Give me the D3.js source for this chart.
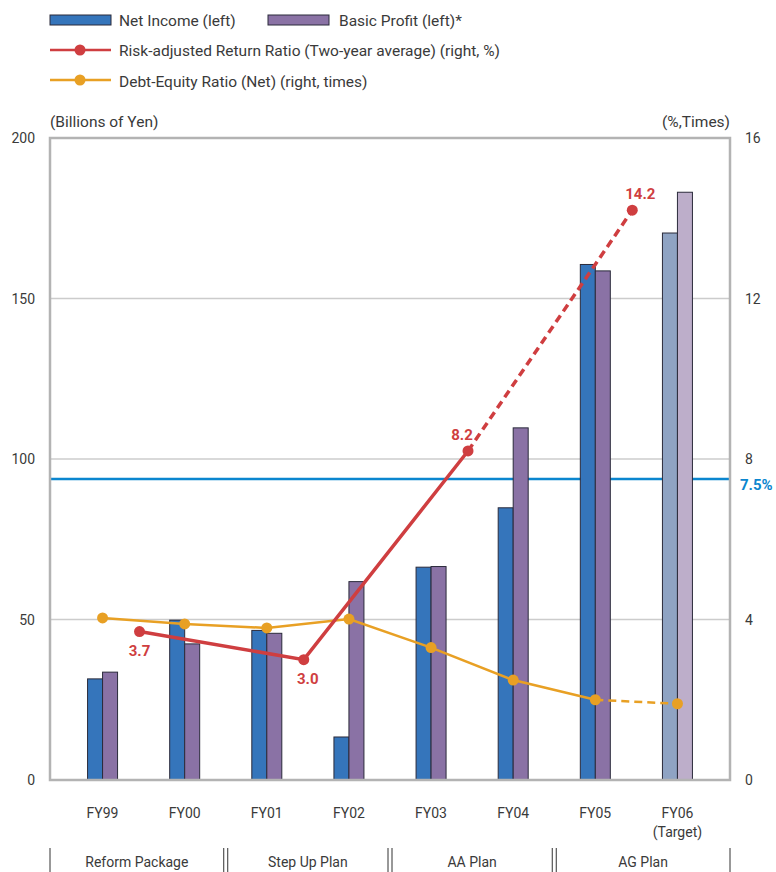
<!DOCTYPE html>
<html><head><meta charset="utf-8">
<script src="https://cdn.jsdelivr.net/npm/d3@7"></script>
<style>body{margin:0;background:#fff;} text{font-family:Roboto, "DejaVu Sans", sans-serif;}</style>
</head><body>
<svg id="c" width="776" height="872"></svg>
<script>
const categories = ["FY99","FY00","FY01","FY02","FY03","FY04","FY05","FY06"];
const catSub = ["","","","","","","","(Target)"];
const netIncome = [31.5, 49.8, 46.6, 13.4, 66.3, 84.8, 160.6, 170.4];
const basicProfit = [33.6, 42.4, 45.7, 61.8, 66.5, 109.7, 158.6, 183.1];
const riskRatio = [3.7, 3.0, 8.2, 14.2];            // two-year averages
const riskAnchor = ["FY99","FY01","FY03","FY05"];     // placed after these years
const riskLabels = ["3.7","3.0","8.2","14.2"];
const debtEquity = [4.04, 3.89, 3.79, 4.01, 3.30, 2.49, 2.00, 1.90];
const targetLine = 7.5;
const leftTicks = [0,50,100,150,200];
const rightTicks = [0,4,8,12,16];
const plans = [
  {name:"Reform Package", from:"FY99", to:"FY00"},
  {name:"Step Up Plan", from:"FY01", to:"FY02"},
  {name:"AA Plan", from:"FY03", to:"FY04"},
  {name:"AG Plan", from:"FY05", to:"FY06"}
];

const svg = d3.select("#c");
const L = 50, R = 730, T = 138, B = 780;
const x = d3.scalePoint().domain(categories).range([L, R]).padding(0.64);
const step = x.step();
const yL = d3.scaleLinear().domain([0,200]).range([B, T]);
const yR = d3.scaleLinear().domain([0,16]).range([B, T]);
const bw = 15;

const C = {net:"#3575bb", basic:"#8a72a5", netT:"#8fa3c3", basicT:"#bdaeca",
  red:"#cf3e40", orange:"#e8a024", blue:"#0b86cf", grid:"#cccccc", frame:"#b3b3b3", text:"#3a3a3a"};

// gridlines
svg.append("g").selectAll("line").data(leftTicks.filter(d=>d>0 && d<200)).join("line")
  .attr("x1", L).attr("x2", R).attr("y1", d=>yL(d)).attr("y2", d=>yL(d))
  .attr("stroke", C.grid).attr("stroke-width", 1.5);

// target line
svg.append("line").attr("x1", L).attr("x2", R).attr("y1", yR(targetLine)).attr("y2", yR(targetLine))
  .attr("stroke", C.blue).attr("stroke-width", 2.5);

// bars
const last = categories.length - 1;
svg.append("g").selectAll("rect").data(netIncome).join("rect")
  .attr("x", (d,i)=>x(categories[i]) - bw).attr("width", bw)
  .attr("y", d=>yL(d)).attr("height", d=>yL(0)-yL(d))
  .attr("fill", (d,i)=> i===last ? C.netT : C.net).attr("stroke","#2b2b3b").attr("stroke-width",1);
svg.append("g").selectAll("rect").data(basicProfit).join("rect")
  .attr("x", (d,i)=>x(categories[i])).attr("width", bw)
  .attr("y", d=>yL(d)).attr("height", d=>yL(0)-yL(d))
  .attr("fill", (d,i)=> i===last ? C.basicT : C.basic).attr("stroke","#2b2b3b").attr("stroke-width",1);

// frame
svg.append("rect").attr("x", L).attr("y", T).attr("width", R-L).attr("height", B-T)
  .attr("fill","none").attr("stroke", C.frame).attr("stroke-width", 2.5);

// debt-equity line
const de = debtEquity.map((v,i)=>[x(categories[i]), yR(v)]);
const line = d3.line();
svg.append("path").attr("d", line(de.slice(0,7))).attr("fill","none").attr("stroke",C.orange).attr("stroke-width",2.5);
svg.append("path").attr("d", line(de.slice(6))).attr("fill","none").attr("stroke",C.orange).attr("stroke-width",2.5).attr("stroke-dasharray","8,5");
svg.append("g").selectAll("circle").data(de).join("circle")
  .attr("cx", d=>d[0]).attr("cy", d=>d[1]).attr("r", 5.5).attr("fill", C.orange);

// risk-adjusted line
const rr = riskRatio.map((v,i)=>[x(riskAnchor[i]) + step*0.45, yR(v)]);
svg.append("path").attr("d", line(rr.slice(0,3))).attr("fill","none").attr("stroke",C.red).attr("stroke-width",3.5);
svg.append("path").attr("d", line(rr.slice(2))).attr("fill","none").attr("stroke",C.red).attr("stroke-width",3.5).attr("stroke-dasharray","8,5");
svg.append("g").selectAll("circle").data(rr).join("circle")
  .attr("cx", d=>d[0]).attr("cy", d=>d[1]).attr("r", 5.5).attr("fill", C.red);
const lblOff = [[0,19],[4,19],[-6,-16],[8,-16]];
svg.append("g").selectAll("text").data(rr).join("text")
  .attr("x", (d,i)=>d[0]+lblOff[i][0]).attr("y", (d,i)=>d[1]+lblOff[i][1]+5)
  .attr("text-anchor","middle").attr("font-size",15).attr("font-weight","bold").attr("fill",C.red)
  .text((d,i)=>riskLabels[i]);

// axes labels
svg.append("g").selectAll("text").data(leftTicks).join("text")
  .attr("x", 35).attr("y", d=>yL(d)+5).attr("text-anchor","end").attr("font-size",14).attr("fill",C.text).text(d=>d);
svg.append("g").selectAll("text").data(rightTicks).join("text")
  .attr("x", 745).attr("y", d=>yR(d)+5).attr("text-anchor","start").attr("font-size",14).attr("fill",C.text).text(d=>d);
svg.append("text").attr("x", 740).attr("y", yR(targetLine)+11).attr("font-size",15).attr("font-weight","bold").attr("fill",C.blue).text("7.5%");
svg.append("text").attr("x", L).attr("y", 127).attr("font-size",15.5).attr("fill",C.text).text("(Billions of Yen)");
svg.append("text").attr("x", R).attr("y", 127).attr("text-anchor","end").attr("font-size",15.5).attr("fill",C.text).text("(%,Times)");

// category labels
svg.append("g").selectAll("text").data(categories).join("text")
  .attr("x", d=>x(d)).attr("y", 818).attr("text-anchor","middle").attr("font-size",14).attr("fill",C.text).text(d=>d);
svg.append("g").selectAll("text").data(categories).join("text")
  .attr("x", d=>x(d)).attr("y", 837).attr("text-anchor","middle").attr("font-size",14).attr("fill",C.text).text((d,i)=>catSub[i]);

// plan brackets
const pg = svg.append("g");
plans.forEach((p,i)=>{
  const a = i===0 ? L : (x(p.from) + x(categories[categories.indexOf(p.from)-1]))/2 + 2;
  const b = i===plans.length-1 ? R : (x(p.to) + x(categories[categories.indexOf(p.to)+1]))/2 - 2;
  [a,b].forEach(xx=> pg.append("line").attr("x1",xx).attr("x2",xx).attr("y1",848).attr("y2",872).attr("stroke","#333").attr("stroke-width",1));
  pg.append("text").attr("x",(a+b)/2).attr("y",867).attr("text-anchor","middle").attr("font-size",14).attr("fill",C.text).text(p.name);
});

// legend
const lg = svg.append("g").attr("font-size",15.5).attr("fill",C.text);
lg.append("rect").attr("x",50).attr("y",15).attr("width",61).attr("height",10).attr("fill",C.net).attr("stroke","#2b2b3b");
lg.append("text").attr("x",119).attr("y",26).text("Net Income (left)");
lg.append("rect").attr("x",268).attr("y",15).attr("width",61).attr("height",10).attr("fill",C.basic).attr("stroke","#2b2b3b");
lg.append("text").attr("x",339).attr("y",26).text("Basic Profit (left)*");
lg.append("line").attr("x1",50).attr("x2",111).attr("y1",50).attr("y2",50).attr("stroke",C.red).attr("stroke-width",2.5);
lg.append("circle").attr("cx",80).attr("cy",50).attr("r",5.5).attr("fill",C.red);
lg.append("text").attr("x",119).attr("y",56).text("Risk-adjusted Return Ratio (Two-year average) (right, %)");
lg.append("line").attr("x1",50).attr("x2",111).attr("y1",80).attr("y2",80).attr("stroke",C.orange).attr("stroke-width",2.5);
lg.append("circle").attr("cx",80).attr("cy",80).attr("r",5.5).attr("fill",C.orange);
lg.append("text").attr("x",119).attr("y",87).text("Debt-Equity Ratio (Net) (right, times)");
</script>
</body></html>
